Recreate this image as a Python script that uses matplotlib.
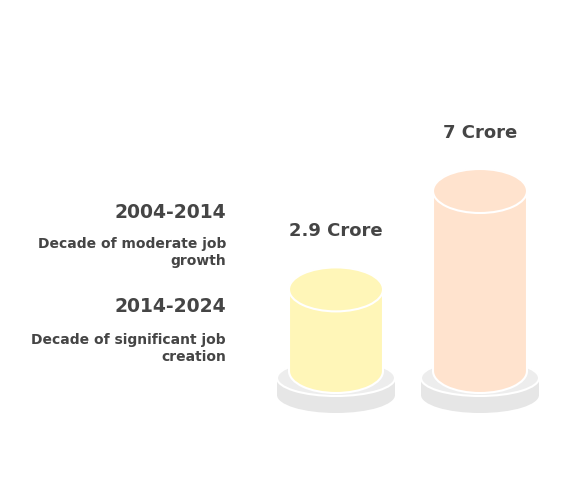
import matplotlib
matplotlib.use("Agg")
import matplotlib.pyplot as plt
from matplotlib.patches import Ellipse, Rectangle

# data
periods = ["2004-2014", "2014-2024"]
descriptions = ["Decade of moderate job\ngrowth", "Decade of significant job\ncreation"]
jobs_crore = [2.9, 7]
value_labels = ["2.9 Crore", "7 Crore"]
colors = ["#FFF6B8", "#FFE3CE"]

plt.rcParams['font.family'] = ['DejaVu Sans']
text_color = "#454545"

fig = plt.figure(figsize=(5.7, 4.92), dpi=100)
ax = fig.add_axes([0, 0, 1, 1])
ax.set_xlim(0, 570)
ax.set_ylim(492, 0)
ax.axis("off")

# cylinder geometry (pixel space)
x0, dx = 336, 144
half_w, ry = 47, 22
base_y = 371
disc_half_w, disc_ry, disc_y, disc_th = 59, 18, 378, 17


def height(v):
    return 12 + 24 * v


for i, (v, c, lab) in enumerate(zip(jobs_crore, colors, value_labels)):
    cx = x0 + dx * i
    # base disc
    ax.add_patch(Ellipse((cx, disc_y + disc_th), 2 * disc_half_w, 2 * disc_ry,
                         facecolor="#E6E6E6", edgecolor="none", zorder=1))
    ax.add_patch(Rectangle((cx - disc_half_w, disc_y), 2 * disc_half_w, disc_th,
                           facecolor="#E6E6E6", edgecolor="none", zorder=1))
    ax.add_patch(Ellipse((cx, disc_y), 2 * disc_half_w, 2 * disc_ry,
                         facecolor="#EDEDED", edgecolor="white", lw=1.5, zorder=2))
    # cylinder
    top = base_y - height(v)
    ax.add_patch(Ellipse((cx, base_y), 2 * half_w, 2 * ry,
                         facecolor=c, edgecolor="white", lw=1.5, zorder=3))
    ax.add_patch(Rectangle((cx - half_w, top), 2 * half_w, base_y - top,
                           facecolor=c, edgecolor="none", zorder=4))
    ax.plot([cx - half_w, cx - half_w], [top, base_y], color="white", lw=1.5, zorder=4)
    ax.plot([cx + half_w, cx + half_w], [top, base_y], color="white", lw=1.5, zorder=4)
    ax.add_patch(Ellipse((cx, top), 2 * half_w, 2 * ry,
                         facecolor=c, edgecolor="white", lw=1.5, zorder=5))
    ax.text(cx, top - ry - 36, lab, ha="center", va="center",
            fontsize=13, fontweight="bold", color=text_color)

# left side labels
for i, (p, d) in enumerate(zip(periods, descriptions)):
    y = 212 + 94 * i
    ax.text(226, y, p, ha="right", va="center", fontsize=13.5,
            fontweight="bold", color=text_color)
    ax.text(226, y + 25 + 2 * i, d, ha="right", va="top", fontsize=10,
            fontweight="bold", color=text_color, linespacing=1.3)

fig.savefig("out.png", dpi=100)
